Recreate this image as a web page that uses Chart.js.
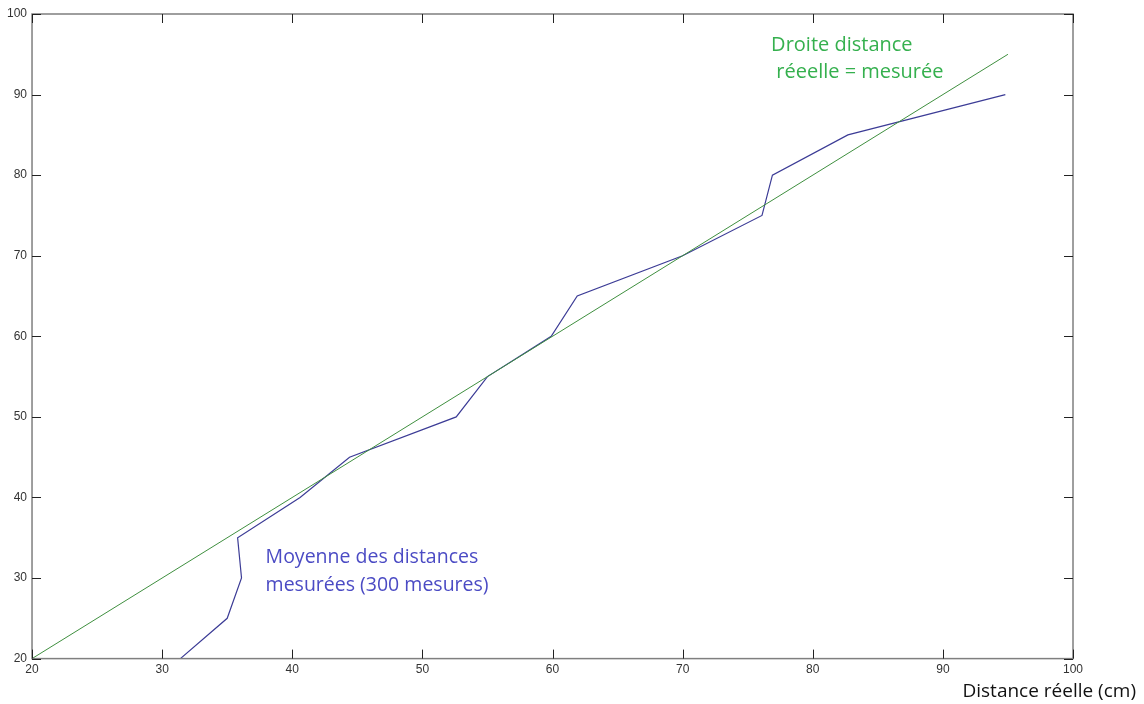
<!DOCTYPE html>
<html>
<head>
<meta charset="utf-8">
<script src="https://cdn.jsdelivr.net/npm/chart.js@4"></script>
<style>
  html, body { margin: 0; padding: 0; background: #fff; }
  #wrap { width: 1144px; height: 704px; position: relative; }
</style>
</head>
<body>
<div id="wrap"><canvas id="chart"></canvas></div>
<script>
// Data
const measuredX = [31.4, 35.0, 36.1, 35.8, 40.6, 44.4, 52.6, 55.0, 59.9, 61.9, 70.0, 76.1, 76.9, 82.7, 94.8];
const measuredY = [20, 25, 30, 35, 40, 45, 50, 55, 60, 65, 70, 75, 80, 85, 90];
const idealX = [20, 95];
const idealY = [20, 95];
const xTicks = [20, 30, 40, 50, 60, 70, 80, 90, 100];
const yTicks = [20, 30, 40, 50, 60, 70, 80, 90, 100];

const colors = {
    blue: '#3c3c96',
    green: '#3f8f3f',
    blueText: '#4b4bc4',
    greenText: '#35b04e',
    axis: '#7f7f7f',
    tick: '#222'
};

// Inward ticks on all four sides + box + annotations
const boxPlugin = {
    id: 'matlabBox',
    afterDraw(chart) {
        const ctx = chart.ctx;
        const a = chart.chartArea;
        const xs = chart.scales.x, ys = chart.scales.y;
        ctx.save();
        ctx.strokeStyle = colors.axis;
        ctx.lineWidth = 1.5;
        ctx.strokeRect(a.left, a.top, a.right - a.left, a.bottom - a.top);

        ctx.strokeStyle = colors.tick;
        ctx.lineWidth = 1;
        const len = 9;
        xTicks.forEach(v => {
            const px = Math.round(xs.getPixelForValue(v)) + 0.5;
            ctx.beginPath();
            ctx.moveTo(px, a.bottom); ctx.lineTo(px, a.bottom - len);
            ctx.moveTo(px, a.top); ctx.lineTo(px, a.top + len);
            ctx.stroke();
        });
        yTicks.forEach(v => {
            const py = Math.round(ys.getPixelForValue(v)) + 0.5;
            ctx.beginPath();
            ctx.moveTo(a.left, py); ctx.lineTo(a.left + len, py);
            ctx.moveTo(a.right, py); ctx.lineTo(a.right - len, py);
            ctx.stroke();
        });

        // annotations
        ctx.font = '20px "Open Sans", sans-serif';
        ctx.textBaseline = 'middle';
        ctx.fillStyle = colors.greenText;
        ctx.fillText('Droite distance', xs.getPixelForValue(76.8), ys.getPixelForValue(96.15));
        ctx.fillText(' réeelle = mesurée', xs.getPixelForValue(76.8), ys.getPixelForValue(92.8));
        ctx.fillStyle = colors.blueText;
        ctx.font = '19.5px "Open Sans", sans-serif';
        ctx.fillText('Moyenne des distances', xs.getPixelForValue(37.95), ys.getPixelForValue(32.5));
        ctx.fillText('mesurées (300 mesures)', xs.getPixelForValue(37.95), ys.getPixelForValue(29.1));

        // x axis title, bottom right
        ctx.fillStyle = '#111';
        ctx.font = '19px "Open Sans", sans-serif';
        ctx.textAlign = 'right';
        ctx.fillText('Distance réelle (cm)', chart.width - 8, 692);
        ctx.restore();
    }
};

function initChart() {
    const ctx = document.getElementById('chart').getContext('2d');
    new Chart(ctx, {
        type: 'scatter',
        data: {
            datasets: [
                {
                    label: 'ideal',
                    data: idealX.map((x, i) => ({ x: x, y: idealY[i] })),
                    showLine: true, borderColor: colors.green, borderWidth: 1,
                    pointRadius: 0, tension: 0
                },
                {
                    label: 'measured',
                    data: measuredX.map((x, i) => ({ x: x, y: measuredY[i] })),
                    showLine: true, borderColor: colors.blue, borderWidth: 1.2,
                    pointRadius: 0, tension: 0
                }
            ]
        },
        options: {
            responsive: true, maintainAspectRatio: false, animation: false,
            layout: { padding: { left: 2, right: 71, top: 14, bottom: 23 } },
            plugins: { legend: { display: false }, tooltip: { enabled: false } },
            scales: {
                x: {
                    type: 'linear', min: 20, max: 100,
                    afterBuildTicks: s => { s.ticks = xTicks.map(v => ({ value: v })); },
                    grid: { display: false, drawTicks: false },
                    border: { display: false },
                    ticks: { color: '#333', padding: 4, font: { family: 'Arial', size: 12 } }
                },
                y: {
                    type: 'linear', min: 20, max: 100,
                    afterBuildTicks: s => { s.ticks = yTicks.map(v => ({ value: v })); },
                    grid: { display: false, drawTicks: false },
                    border: { display: false },
                    ticks: { color: '#333', padding: 5, font: { family: 'Arial', size: 12 } }
                }
            }
        },
        plugins: [boxPlugin]
    });
}

document.addEventListener('DOMContentLoaded', initChart);
</script>
</body>
</html>
